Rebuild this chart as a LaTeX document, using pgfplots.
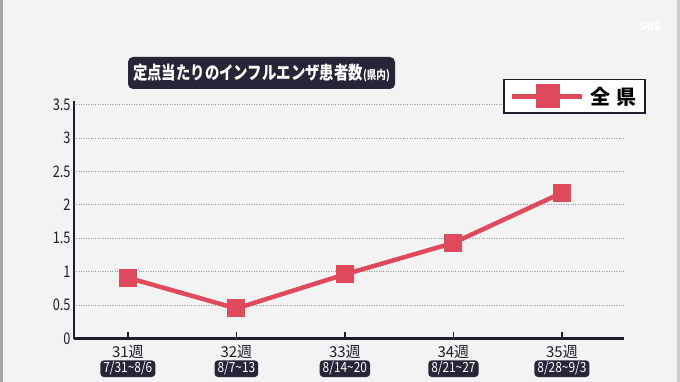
\documentclass[border=0pt]{standalone}
\usepackage{pgfplots}
\pgfplotsset{compat=1.18}
\usepackage{fontspec}
\setmainfont{Noto Sans CJK JP}
\definecolor{bg}{HTML}{F3F3F3}
\definecolor{navy}{HTML}{262638}
\definecolor{ln}{HTML}{DF4A5C}
\definecolor{axc}{HTML}{1E1E2A}
\newcommand{\wk}[2]{#1\\[-1pt]\tikz[baseline=(d.base)]\node[fill=navy,rounded corners=3.5pt,text=white,inner xsep=3pt,inner ysep=1.5pt,font=\fontsize{14}{15}\selectfont](d){\scalebox{0.85}[1]{#2}};}
\begin{document}
\begin{tikzpicture}[x=1pt,y=1pt]
\useasboundingbox (0,0) rectangle (680,382);
\fill[bg] (0,0) rectangle (680,382);
\fill[gray!70] (0,0) rectangle (3,382);
\fill[gray!40] (677,0) rectangle (680,382);
\node[text=white,font=\fontsize{11}{12}\selectfont\bfseries] at (650,356) {SBS};
\begin{axis}[
  at={(68,65)}, anchor=south west,
  scale only axis, width=550, height=238,
  xmin=-0.498, xmax=4.57, ymin=0, ymax=3.56,
  axis x line=bottom, axis y line=left,
  axis line style={-, line width=2.2pt, color=axc},
  xtick={0,1,2,3,4},
  xticklabels={{\wk{31週}{7/31\textasciitilde 8/6}},{\wk{32週}{8/7\textasciitilde 13}},{\wk{33週}{8/14\textasciitilde 20}},{\wk{34週}{8/21\textasciitilde 27}},{\wk{35週}{8/28\textasciitilde 9/3}}},
  xticklabel style={align=center, font=\fontsize{15}{16}\selectfont, text=axc, inner sep=1pt, yshift=-6pt},
  xtick style={draw=axc, line width=1.5pt},
  major tick length=7pt, tick align=inside,
  ytick={0,0.5,1,1.5,2,2.5,3,3.5},
  ytick style={draw=none},
  yticklabel={\scalebox{0.8}[1]{\pgfmathprintnumber{\tick}}},
  yticklabel style={font=\fontsize{16}{17}\selectfont, text=axc, inner sep=1pt, xshift=-2pt},
  /pgf/number format/assume math mode=true,
  ymajorgrids, major grid style={dotted, line width=0.8pt, color=gray!80},
  clip=false,
  legend style={at={(1.04,1.092)}, anchor=north east, draw=axc, line width=1.6pt, fill=white,
    font=\fontsize{20}{21}\selectfont\bfseries, inner xsep=6pt, inner ysep=5pt},
  legend cell align=left,
  legend image code/.code={
    \draw[ln, line width=5pt] (0pt,0pt) -- (70pt,0pt);
    \fill[ln] (26pt,-9.5pt) rectangle (45pt,9.5pt);
  },
]
\addplot[ln, line width=4.5pt, mark=square*, mark size=8.5pt, mark options={fill=ln, draw=ln, line width=0pt}]
  coordinates {(0,0.91) (1,0.45) (2,0.96) (3,1.43) (4,2.18)};
\addlegendentry{\hspace{4pt}全\hspace{6pt}県}
\end{axis}
\node[fill=navy, rounded corners=5pt, text=white, minimum width=267, minimum height=32, inner sep=2pt,
  font=\fontsize{18}{19}\selectfont\bfseries] at (261.5,309) {\scalebox{0.8}[1]{定点当たりのインフルエンザ患者数{\fontsize{12}{13}\selectfont(県内)}}};
\end{tikzpicture}
\end{document}
